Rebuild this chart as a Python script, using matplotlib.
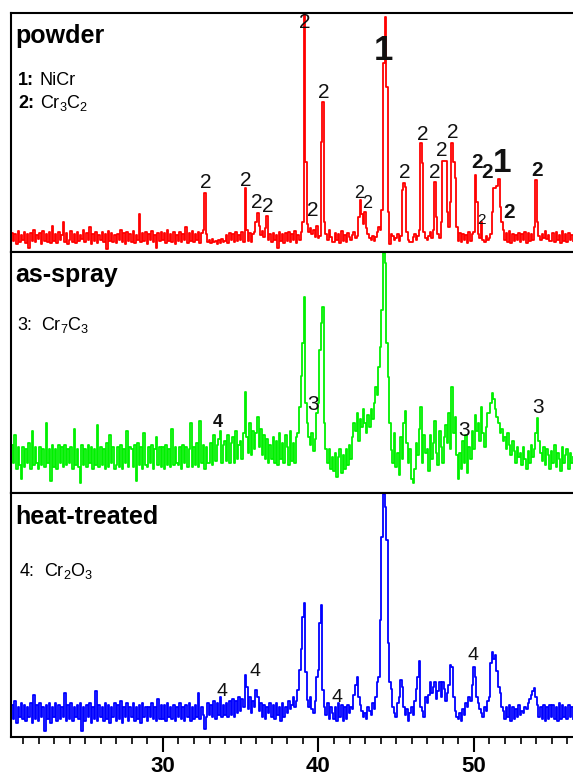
import numpy as np
import matplotlib
matplotlib.use('Agg')
import matplotlib.pyplot as plt
from matplotlib.ticker import MultipleLocator

plt.rcParams['font.family'] = ['Liberation Sans', 'DejaVu Sans']
plt.rcParams['mathtext.fontset'] = 'custom'
plt.rcParams['mathtext.rm'] = 'Liberation Sans'
plt.rcParams['mathtext.bf'] = 'Liberation Sans:bold'
plt.rcParams['mathtext.it'] = 'Liberation Sans:italic'

# XRD scans, 2-theta from 20.2 deg in 0.1 deg steps (one row per degree)
start_2theta = 20.2
step_2theta = 0.1

powder = sum([
    [9, 19, 11, 18, 8, 21, 10, 17],                  # 20.2
    [12, 20, 9, 18, 4, 19, 11, 22, 10, 17],          # 21
    [13, 19, 8, 21, 11, 18, 10, 20, 9, 26],
    [11, 18, 9, 20, 12, 17, 30, 10, 19, 8],
    [12, 21, 10, 18, 9, 20, 11, 17, 13, 22],
    [10, 19, 12, 25, 8, 18, 11, 20, 9, 17],          # 25
    [12, 20, 10, 18, 3, 21, 11, 19, 10, 17],
    [9, 18, 12, 22, 10, 19, 8, 20, 11, 18],
    [10, 21, 9, 17, 12, 38, 10, 19, 11, 20],
    [8, 18, 12, 21, 10, 17, 4, 19, 11, 20],
    [12, 19, 9, 22, 11, 18, 10, 20, 8, 17],          # 30
    [11, 20, 10, 18, 12, 25, 9, 19, 11, 21],
    [10, 18, 12, 20, 9, 19, 22, 59, 18, 10],
    [12, 9, 13, 10, 11, 8, 12, 9, 13, 10],
    [11, 17, 9, 19, 12, 18, 10, 20, 11, 17],
    [12, 20, 10, 64, 22, 11, 19, 10, 18, 20],        # 35
    [30, 39, 26, 17, 21, 15, 24, 36, 12, 18],
    [10, 19, 12, 17, 4, 20, 11, 18, 9, 19],
    [11, 20, 10, 18, 12, 21, 9, 17, 12, 20],
    [30, 239, 90, 28, 20, 24, 18, 22, 15, 26],
    [14, 16, 110, 150, 30, 18, 12, 22, 15, 10],      # 40
    [10, 19, 12, 18, 9, 21, 11, 17, 10, 19],
    [15, 12, 17, 20, 14, 16, 35, 52, 38, 28],
    [40, 24, 18, 14, 12, 16, 11, 15, 20, 25],
    [22, 42, 189, 235, 165, 40, 8, 18, 16, 12],
    [14, 18, 11, 16, 62, 69, 65, 20, 12, 10],        # 45
    [10, 15, 18, 12, 16, 22, 109, 89, 20, 14],
    [12, 16, 20, 14, 22, 70, 35, 18, 14, 30],
    [91, 91, 91, 40, 25, 50, 109, 90, 74, 25],
    [11, 19, 10, 18, 12, 17, 9, 20, 11, 18],
    [20, 77, 50, 18, 14, 30, 12, 10, 16, 12],        # 50
    [14, 18, 40, 64, 64, 66, 73, 45, 30, 22],
    [12, 19, 10, 21, 9, 18, 11, 17, 12, 19],
    [10, 18, 12, 20, 9, 19, 11, 18, 12, 25],
    [72, 30, 16, 12, 18, 14, 21, 13, 17, 11],
    [11, 19, 10, 20, 12, 17, 9, 21, 11, 18],         # 55
    [10, 19, 12, 17, 11],
], [])

as_spray = sum([
    [26, 48, 30, 58, 24, 46, 28, 14],                # 20.2
    [46, 26, 44, 30, 50, 24, 62, 28, 46, 30],
    [24, 46, 28, 44, 26, 70, 30, 44, 12, 48],
    [26, 44, 24, 48, 30, 46, 26, 48, 28, 44],
    [30, 46, 24, 64, 28, 44, 26, 10, 48, 28],
    [44, 26, 48, 30, 46, 24, 44, 28, 68, 26],        # 25
    [46, 28, 44, 24, 50, 26, 58, 30, 46, 24],
    [28, 46, 26, 48, 24, 44, 30, 62, 26, 46],
    [44, 26, 48, 12, 50, 28, 46, 24, 60, 28],
    [26, 46, 30, 48, 24, 44, 56, 28, 46, 26],
    [46, 24, 48, 28, 44, 26, 64, 28, 46, 30],        # 30
    [28, 46, 24, 48, 30, 46, 26, 44, 70, 26],
    [46, 28, 50, 26, 72, 30, 48, 24, 46, 30],
    [30, 50, 28, 58, 32, 48, 54, 62, 30, 48],
    [52, 32, 58, 30, 50, 56, 30, 62, 34, 48],
    [52, 34, 60, 101, 56, 40, 70, 38, 62, 44],       # 35
    [60, 76, 46, 64, 38, 58, 34, 54, 30, 48],
    [34, 56, 30, 52, 28, 60, 34, 50, 30, 58],
    [46, 28, 62, 32, 50, 30, 56, 60, 86, 117],
    [150, 196, 90, 70, 56, 48, 60, 42, 54, 80],
    [90, 143, 170, 186, 70, 44, 30, 44, 24, 36],     # 40
    [22, 40, 16, 36, 44, 20, 38, 24, 44, 28],
    [48, 34, 56, 70, 62, 80, 52, 74, 66, 84],
    [70, 60, 78, 66, 84, 74, 90, 106, 98, 126],
    [146, 183, 240, 230, 150, 116, 70, 43, 30, 60],
    [26, 40, 18, 56, 34, 70, 82, 50, 30, 44],        # 45
    [14, 10, 24, 50, 38, 64, 86, 30, 58, 40],
    [44, 22, 58, 34, 50, 72, 40, 28, 62, 46],
    [30, 56, 68, 50, 80, 44, 106, 60, 76, 38],
    [14, 40, 24, 52, 30, 58, 20, 46, 34, 62],
    [44, 78, 62, 70, 52, 86, 60, 46, 66, 80],        # 50
    [80, 90, 100, 94, 84, 76, 70, 60, 64, 52],
    [56, 44, 60, 48, 38, 52, 42, 30, 46, 36],
    [40, 28, 46, 34, 24, 42, 30, 48, 36, 44],
    [60, 75, 52, 40, 32, 46, 28, 44, 38, 24],
    [42, 30, 48, 26, 40, 34, 22, 46, 30, 38],        # 55
    [44, 24, 40, 30, 36],
], [])

heat_treated = sum([
    [16, 32, 18, 36, 14, 30, 20, 34],                # 20.2
    [18, 32, 16, 30, 20, 34, 14, 42, 18, 32],
    [16, 34, 20, 30, 6, 32, 18, 34, 14, 30],
    [20, 34, 16, 32, 18, 30, 20, 44, 16, 32],
    [18, 34, 16, 30, 20, 32, 18, 34, 6, 30],
    [16, 32, 20, 34, 14, 30, 18, 46, 16, 32],        # 25
    [20, 30, 16, 34, 18, 32, 14, 30, 20, 34],
    [16, 32, 18, 36, 14, 30, 20, 34, 16, 30],
    [20, 34, 16, 30, 18, 32, 14, 34, 20, 30],
    [16, 30, 20, 34, 18, 30, 16, 38, 18, 32],
    [18, 32, 16, 34, 20, 30, 18, 32, 16, 30],        # 30
    [20, 34, 18, 30, 16, 32, 20, 34, 16, 30],
    [18, 32, 20, 44, 18, 30, 22, 8, 20, 34],
    [22, 32, 20, 36, 18, 34, 22, 40, 20, 32],
    [22, 34, 20, 36, 22, 38, 20, 36, 24, 40],
    [26, 38, 30, 62, 50, 28, 40, 24, 36, 30],        # 35
    [47, 40, 26, 34, 20, 32, 18, 30, 24, 34],
    [20, 32, 18, 34, 22, 30, 16, 34, 20, 30],
    [24, 36, 28, 32, 40, 30, 36, 47, 67, 88],
    [120, 134, 65, 37, 30, 40, 28, 24, 36, 60],
    [67, 114, 132, 47, 30, 22, 34, 18, 30, 24],      # 40
    [18, 30, 16, 34, 20, 32, 16, 30, 18, 32],
    [24, 30, 28, 42, 52, 60, 40, 32, 26, 20],
    [24, 18, 30, 26, 22, 34, 28, 40, 55, 60],
    [117, 200, 243, 230, 197, 94, 55, 48, 30, 24],
    [20, 34, 40, 57, 50, 30, 22, 28, 16, 24],        # 45
    [30, 22, 36, 48, 60, 76, 30, 26, 20, 40],
    [34, 42, 55, 44, 50, 55, 38, 46, 55, 40],
    [55, 48, 36, 44, 52, 72, 70, 40, 26, 20],
    [18, 24, 16, 28, 22, 34, 30, 40, 36, 52],
    [70, 60, 40, 34, 28, 24, 20, 30, 26, 36],        # 50
    [40, 74, 85, 78, 82, 66, 50, 44, 30, 26],
    [18, 30, 20, 32, 16, 30, 18, 28, 20, 32],
    [22, 26, 24, 30, 28, 34, 38, 42, 46, 49],
    [40, 32, 20, 30, 18, 32, 16, 30, 18, 32],
    [20, 32, 18, 30, 16, 34, 18, 32, 20, 30],        # 55
    [18, 32, 20, 30, 18],
], [])

# peak markers: (2theta, height, text, fontsize, weight)
powder_marks = [
    (32.76, 69, '2', 15, 'normal'), (35.3, 72, '2', 15, 'normal'),
    (36.05, 50, '2', 15, 'normal'), (36.75, 45, '2', 15, 'normal'),
    (39.13, 229, '2', 15, 'normal'), (39.65, 42, '2', 15, 'normal'),
    (40.35, 159, '2', 15, 'normal'), (44.2, 202, '1', 25, 'bold'),
    (42.6, 59, '2', 13, 'normal'), (43.1, 49, '2', 13, 'normal'),
    (45.56, 80, '2', 15, 'normal'), (46.7, 117, '2', 15, 'normal'),
    (47.5, 79, '2', 15, 'normal'), (47.95, 102, '2', 15, 'normal'),
    (48.65, 119, '2', 15, 'normal'), (50.2, 89, '2', 15, 'bold'),
    (50.85, 79, '2', 15, 'bold'), (51.8, 89, '1', 24, 'bold'),
    (50.5, 32, '2', 11, 'normal'), (52.25, 39, '2', 15, 'bold'),
    (54.05, 82, '2', 15, 'bold'),
]
as_spray_marks = [
    (33.5, 71, '4', 13, 'bold'), (39.65, 89, '3', 15, 'normal'),
    (49.35, 63, '3', 15, 'normal'), (54.1, 86, '3', 15, 'normal'),
]
heat_marks = [
    (33.8, 45, '4', 14, 'normal'), (35.9, 65, '4', 14, 'normal'),
    (41.2, 40, '4', 14, 'normal'), (49.95, 81, '4', 14, 'normal'),
]

# phase keys: (number, weight, phase)
powder_key = [('1:', 'bold', 'NiCr'), ('2:', 'bold', r'Cr$_3$C$_2$')]
as_spray_key = [('3:', 'normal', r'Cr$_7$C$_3$')]
heat_key = [('4:', 'normal', r'Cr$_2$O$_3$')]

panels = [
    ('powder', powder, '#ff0000', powder_marks, powder_key),
    ('as-spray', as_spray, '#00f000', as_spray_marks, as_spray_key),
    ('heat-treated', heat_treated, '#0000ff', heat_marks, heat_key),
]

W, H = 573, 779
fig = plt.figure(figsize=(W / 100, H / 100), dpi=100)
left = 11 / W
edges = [(13, 252), (252, 493), (493, 737)]
key_base = [(0.699, 0.603), (0.676,), (0.66,)]
key_x = [0.013, 0.011, 0.016]
key_gap = [15.5, 17.0, 17.0]

for i, (name, counts, color, marks, key) in enumerate(panels):
    top, bot = edges[i]
    ax = fig.add_axes([left, 1 - bot / H, 1 - left, (bot - top) / H])
    x = start_2theta + step_2theta * np.arange(len(counts))
    ax.plot(x, counts, color=color, lw=1.3, drawstyle='steps-mid')
    ax.set_xlim(20.23, 56.37)
    ax.set_ylim(0, bot - top)
    ax.set_yticks([])
    for s in ['left', 'top', 'bottom']:
        ax.spines[s].set_linewidth(1.5)
    ax.spines['right'].set_visible(False)

    for px, py, t, fs, fw in marks:
        ax.text(px, py, t, fontsize=fs, fontweight=fw, ha='center', va='center',
                color='#111111')

    ax.text(0.008, 0.875, name, transform=ax.transAxes, fontsize=18,
            fontweight='bold', va='baseline', ha='left')
    for (num, w, phase), yb in zip(key, key_base[i]):
        ax.text(key_x[i], yb, num, transform=ax.transAxes, fontsize=13,
                fontweight=w, va='baseline', ha='left')
        ax.annotate(phase, xy=(key_x[i], yb), xycoords='axes fraction',
                    xytext=(key_gap[i], 0), textcoords='offset points',
                    fontsize=13, va='baseline', ha='left')

    if i < 2:
        ax.set_xticks([])
    else:
        ax.xaxis.set_major_locator(MultipleLocator(10))
        ax.xaxis.set_minor_locator(MultipleLocator(1))
        ax.tick_params(axis='x', which='major', direction='out', length=11,
                       width=1.5, pad=3, labelsize=16)
        ax.tick_params(axis='x', which='minor', direction='out', length=5,
                       width=1.2)
        for lab in ax.get_xticklabels():
            lab.set_fontweight('bold')

fig.savefig('out.png', dpi=100)
